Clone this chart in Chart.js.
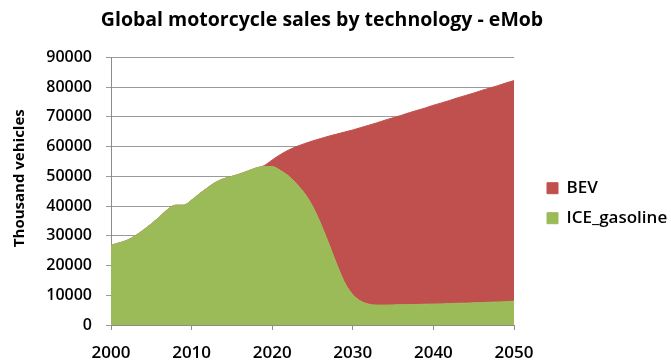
<!DOCTYPE html>
<html><head><meta charset="utf-8">
<script src="https://cdn.jsdelivr.net/npm/chart.js@4/dist/chart.umd.min.js"></script>
<style>html,body{margin:0;padding:0;background:#fff;}canvas{display:block;}</style>
</head><body>
<canvas id="c" width="671" height="361"></canvas>
<script>
const chartTitle = 'Global motorcycle sales by technology - eMob';
const yAxisTitle = 'Thousand vehicles';
const years = [2000,2001,2002,2003,2004,2005,2006,2007,2008,2009,
               2010,2011,2012,2013,2014,2015,2016,2017,2018,2019,
               2020,2021,2022,2023,2024,2025,2026,2027,2028,2029,
               2030,2031,2032,2033,2034,2035,2036,2037,2038,2039,
               2040,2041,2042,2043,2044,2045,2046,2047,2048,2049,2050];
const iceGasoline = [26800,27600,28500,30000,31900,34000,36300,38800,40300,40300,
                     42000,44200,46200,48000,49200,50000,50800,51800,52800,53300,
                     53300,52000,50200,47500,44300,40000,34200,27500,20500,14200,
                     10200,8000,7000,6700,6700,6750,6800,6850,6900,7000,
                     7050,7100,7200,7300,7350,7450,7550,7650,7750,7850,8000];
const bev = [0,0,0,0,0,0,0,0,0,0,
             0,0,0,0,0,0,0,0,0,300,
             2200,5300,8600,12500,16700,21900,28500,36000,43700,50700,
             55400,58400,60200,61300,62200,62950,63700,64550,65300,66000,
             66850,67600,68300,69100,69850,70550,71350,72050,72750,73550,74200];
const seriesNames = ['ICE_gasoline', 'BEV'];
const seriesColors = ['#9BBB59', '#C0504D'];
const yMin = 0, yMax = 90000, yStep = 10000;
const xMin = 2000, xMax = 2050, xStep = 10;

const font = 'Open Sans';
const toPts = arr => years.map((yr, i) => ({x: yr, y: arr[i]}));

const layoutTweaks = {
  id: 'layoutTweaks',
  beforeLayout(chart) {
    const lg = chart.legend;
    if (lg && !lg._fixed) {
      const orig = lg.fit;
      lg.fit = function () { orig.call(this); this.width = 157; };
      lg._fixed = true;
    }
  },
  afterLayout(chart) {
    const t = chart.titleBlock;
    if (t) { const w = t.right - t.left; t.left = 322 - w / 2; t.right = 322 + w / 2; }
    const lg = chart.legend;
    if (lg) { lg.left += 20; lg.right += 20; lg.top += 12; lg.bottom += 12; }
    const ys = chart.scales.y;
    if (ys && !ys._titleShift) {
      const o = ys.drawTitle;
      ys.drawTitle = function () { this.ctx.save(); this.ctx.translate(0, -13); o.call(this); this.ctx.restore(); };
      ys._titleShift = true;
    }
  }
};

new Chart(document.getElementById('c'), {
  type: 'line',
  data: {
    datasets: [
      { label: seriesNames[0], data: toPts(iceGasoline), backgroundColor: seriesColors[0],
        borderColor: seriesColors[0], borderWidth: 1, fill: 'origin', pointRadius: 0,
        cubicInterpolationMode: 'monotone' },
      { label: seriesNames[1], data: toPts(bev), backgroundColor: seriesColors[1],
        borderColor: seriesColors[1], borderWidth: 1, fill: '-1', pointRadius: 0,
        cubicInterpolationMode: 'monotone' }
    ]
  },
  plugins: [layoutTweaks],
  options: {
    responsive: false, animation: false, devicePixelRatio: 1,
    layout: { padding: { left: 0, right: 0, top: 0, bottom: 0 } },
    plugins: {
      tooltip: { enabled: false },
      title: { display: true, text: chartTitle, color: '#000',
        font: { family: font, size: 19.5, weight: 'bold' }, padding: { top: 9, bottom: 25 } },
      legend: { display: true, position: 'right', fullSize: false, reverse: true, align: 'center',
        labels: { boxWidth: 11, boxHeight: 11, padding: 13, color: '#000',
          font: { family: font, size: 17, weight: '600' } } }
    },
    scales: {
      x: { type: 'linear', min: xMin, max: xMax,
        afterFit(s) { s.height = 36; },
        grid: { drawOnChartArea: false, drawTicks: true, tickLength: 5, color: '#8c8c8c' },
        border: { display: true, color: '#8c8c8c' },
        ticks: { stepSize: xStep, autoSkip: false, maxRotation: 0, padding: 13, color: '#000',
          font: { family: font, size: 17, weight: '600' }, callback: v => String(v) } },
      y: { stacked: true, min: yMin, max: yMax,
        afterFit(s) { s.width = 111; },
        grid: { color: '#9a9a9a', tickLength: 5, drawTicks: true },
        border: { display: true, color: '#8c8c8c' },
        title: { display: true, text: yAxisTitle, color: '#000', padding: { top: 11, bottom: 4 },
          font: { family: font, size: 15, weight: 'bold' } },
        ticks: { stepSize: yStep, padding: 14, color: '#000',
          font: { family: font, size: 16, weight: '600' }, callback: v => String(v) } }
    }
  }
});
</script>
</body></html>
